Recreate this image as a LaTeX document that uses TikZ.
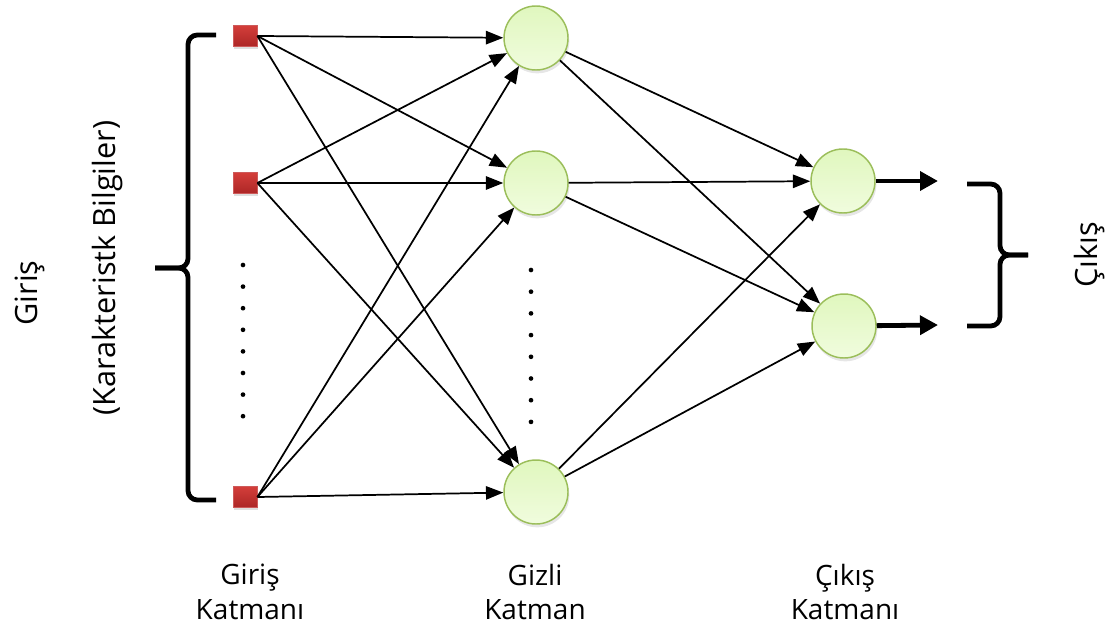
\documentclass[tikz,border=0pt]{standalone}
\usepackage{fontspec}
\setmainfont{Open Sans}
\usetikzlibrary{arrows.meta,shadows}
\definecolor{sqtop}{RGB}{212,62,58}
\definecolor{sqbot}{RGB}{172,38,38}
\definecolor{sqborder}{RGB}{205,90,90}
\definecolor{neutop}{RGB}{224,247,190}
\definecolor{neubot}{RGB}{240,252,222}
\definecolor{neuborder}{RGB}{155,190,90}
\begin{document}
\begin{tikzpicture}[x=0.75pt,y=-0.75pt,
  font=\fontsize{21}{26}\selectfont,
  rfont/.style={font=\fontsize{23}{27}\selectfont},
  inp/.style={rectangle, minimum width=18pt, minimum height=16pt, inner sep=0pt,
    draw=sqborder, line width=0.6pt, top color=sqtop, bottom color=sqbot,
    drop shadow={opacity=0.25, shadow xshift=1pt, shadow yshift=-2pt}},
  neu/.style={circle, minimum size=48pt, inner sep=0pt, draw=neuborder, line width=1.1pt,
    top color=neutop, bottom color=neubot,
    drop shadow={opacity=0.2, shadow xshift=1pt, shadow yshift=-2.5pt}},
  conn/.style={line width=1.3pt, -{Triangle[length=13pt,width=10pt]}},
  outarr/.style={line width=3.6pt, -{Triangle[length=13.5pt,width=14pt]}},
  brace/.style={line width=3.6pt, rounded corners=7pt},
  dot/.style={fill=black, circle, inner sep=0pt, minimum size=3.5pt},
  lbl/.style={align=center, inner sep=0pt}
]
\useasboundingbox (0,0) rectangle (1112,635);

% input layer
\node[inp] (i1) at (245,36) {};
\node[inp] (i2) at (245,183) {};
\node[inp] (i3) at (245,497) {};

% hidden layer
\node[neu] (h1) at (536,38) {};
\node[neu] (h2) at (536,183) {};
\node[neu] (h3) at (536,492) {};

% output layer
\node[neu] (o1) at (843,181) {};
\node[neu] (o2) at (844,326) {};

% output arrow ends
\coordinate (e1) at (938,181);
\coordinate (e2) at (938,325);

% connections input -> hidden
\foreach \a in {i1,i2,i3}{
  \foreach \b in {h1,h2,h3}{
    \draw[conn] (\a.east) -- (\b);
  }
}
% connections hidden -> output
\foreach \a in {h1,h2,h3}{
  \foreach \b in {o1,o2}{
    \draw[conn] (\a) -- (\b);
  }
}
\draw[outarr] (o1) -- (e1);
\draw[outarr] (o2) -- (e2);

% dots
\foreach \k in {0,...,7}{
  \node[dot] (ld\k) at (243,{265+21.6*\k}) {};
  \node[dot] (rd\k) at (531,{270+21.7*\k}) {};
}

% braces
\draw[brace] (155,268) -- (188,268) -- (188,35) -- (216,35);
\draw[brace] (155,268) -- (188,268) -- (188,500) -- (216,500);
\draw[brace] (1028,255) -- (1000,255) -- (1000,184) -- (967,184);
\draw[brace] (1028,255) -- (1000,255) -- (1000,326) -- (967,326);

% texts
\node[rfont, rotate=90, inner sep=0pt] (tin) at (30,293) {Giriş};
\node[rfont, rotate=90, inner sep=0pt] (tkb) at (108,268) {(Karakteristk Bilgiler)};
\node[rfont, rotate=90, inner sep=0pt] (tout) at (1090,255) {Çıkış};

\node[lbl] (l1) at (250,592) {Giriş\\Katmanı};
\node[lbl] (l2) at (535,592) {Gizli\\Katman};
\node[lbl] (l3) at (845,592) {Çıkış\\Katmanı};
\end{tikzpicture}
\end{document}
